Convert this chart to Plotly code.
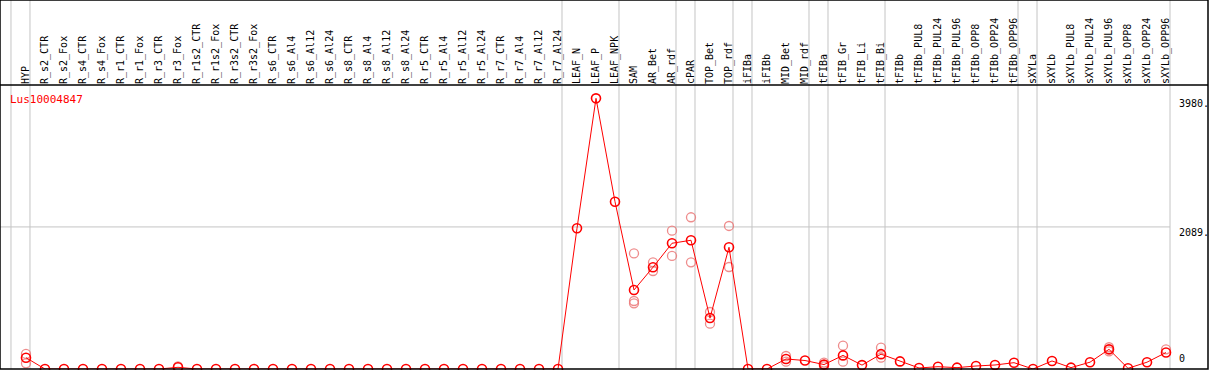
import plotly.graph_objects as go

categories = ["HYP", "R_s2_CTR", "R_s2_Fox", "R_s4_CTR", "R_s4_Fox", "R_r1_CTR", "R_r1_Fox",
              "R_r3_CTR", "R_r3_Fox", "R_r1s2_CTR", "R_r1s2_Fox", "R_r3s2_CTR", "R_r3s2_Fox",
              "R_s6_CTR", "R_s6_Al4", "R_s6_Al12", "R_s6_Al24", "R_s8_CTR", "R_s8_Al4",
              "R_s8_Al12", "R_s8_Al24", "R_r5_CTR", "R_r5_Al4", "R_r5_Al12", "R_r5_Al24",
              "R_r7_CTR", "R_r7_Al4", "R_r7_Al12", "R_r7_Al24", "LEAF_N", "LEAF_P", "LEAF_NPK",
              "SAM", "AR_Bet", "AR_rdf", "cPAR", "TOP_Bet", "TOP_rdf", "iFIBa", "iFIBb",
              "MID_Bet", "MID_rdf", "tFIBa", "tFIB_Gr", "tFIB_Li", "tFIB_Bi", "tFIBb",
              "tFIBb_PUL8", "tFIBb_PUL24", "tFIBb_PUL96", "tFIBb_OPP8", "tFIBb_OPP24",
              "tFIBb_OPP96", "sXYLa", "sXYLb", "sXYLb_PUL8", "sXYLb_PUL24", "sXYLb_PUL96",
              "sXYLb_OPP8", "sXYLb_OPP24", "sXYLb_OPP96"]

mean_values = [166, 0, 0, 0, 0, 0, 0, 0, 25, 0, 0, 0, 0,
               0, 0, 0, 0, 0, 0, 0, 0, 0, 0, 0, 0,
               0, 0, 0, 0, 2070, 3980, 2460,
               1162, 1496, 1849, 1893, 750, 1790, 0, 0,
               147, 125, 65, 200, 57, 218, 112,
               15, 34, 20, 44, 59,
               93, 0, 118, 20, 100, 289,
               10, 100, 242]

rep_categories = ["HYP", "HYP", "R_r3_Fox", "SAM", "SAM", "SAM", "AR_Bet", "AR_Bet",
                  "AR_rdf", "AR_rdf", "cPAR", "cPAR", "TOP_Bet", "TOP_Bet", "TOP_rdf", "TOP_rdf",
                  "MID_Bet", "MID_Bet", "tFIBa", "tFIBa", "tFIB_Gr", "tFIB_Gr", "tFIB_Bi", "tFIB_Bi",
                  "sXYLb_PUL96", "sXYLb_PUL96", "sXYLb_OPP96"]
rep_values = [221, 83, 40, 1701, 1000, 966, 1569, 1441,
              2034, 1662, 2231, 1569, 838, 666, 2103, 1500,
              191, 107, 95, 40, 343, 107, 313, 166,
              320, 260, 289]

group_ends = ["HYP", "R_r7_Al24", "LEAF_NPK", "AR_rdf", "cPAR", "TOP_rdf", "iFIBa",
              "MID_rdf", "tFIBa", "tFIB_Bi", "tFIBb_OPP96", "sXYLa", "sXYLb_OPP96"]

gene = "Lus10004847"
axis_labels = [3980, 2089, 0]

idx = {c: i for i, c in enumerate(categories)}
xs = list(range(len(categories)))

W, H = 1209, 370
T, B = 85, 1
plot_h = H - T - B
YMAX = 4176
XMIN, XMAX = -1.368, 62.21

fig = go.Figure()
fig.add_trace(go.Scatter(
    x=[idx[c] for c in rep_categories], y=rep_values, mode="markers",
    marker=dict(symbol="circle-open", size=9, color="rgba(235,120,120,0.85)",
                line=dict(width=1.3, color="rgba(235,120,120,0.85)")),
    hoverinfo="skip", cliponaxis=False, showlegend=False))
fig.add_trace(go.Scatter(
    x=xs, y=mean_values, mode="lines+markers",
    line=dict(color="#ff0000", width=1),
    marker=dict(symbol="circle-open", size=9, color="#ff0000",
                line=dict(width=1.6, color="#ff0000")),
    cliponaxis=False, showlegend=False))

shapes = []
top_paper = 1 + T / plot_h
sep_positions = [-1] + [idx[c] for c in group_ends]
for k in sep_positions:
    shapes.append(dict(type="line", xref="x", yref="paper", x0=k + 0.21, x1=k + 0.21,
                       y0=0, y1=top_paper, line=dict(color="#c4c4c4", width=1), layer="below"))
shapes.append(dict(type="line", xref="paper", yref="y", x0=0, x1=(idx["sXYLb_OPP96"] + 0.21 - XMIN) / (XMAX - XMIN),
                   y0=2089, y1=2089, line=dict(color="#c4c4c4", width=1), layer="below"))
# frame
shapes.append(dict(type="rect", xref="paper", yref="paper", x0=0, x1=1, y0=0, y1=top_paper,
                   line=dict(color="black", width=1.5)))
shapes.append(dict(type="line", xref="paper", yref="paper", x0=0, x1=1, y0=1, y1=1,
                   line=dict(color="black", width=1.5)))

annotations = [dict(text=gene, xref="paper", yref="paper", x=8 / (W - 1), y=1 - 6 / plot_h,
                    xanchor="left", yanchor="top", showarrow=False,
                    font=dict(family="DejaVu Sans Mono", size=11, color="#ff0000"))]
for v in axis_labels:
    annotations.append(dict(text=f"{v}." if v else "0", xref="x", yref="y", x=60.6, y=v,
                            xanchor="left", yanchor="top" if v else "bottom",
                            yshift=2 if v else 3, showarrow=False,
                            font=dict(family="DejaVu Sans Mono", size=10, color="black")))

fig.update_layout(
    width=W, height=H, margin=dict(l=0, r=1, t=T, b=B),
    plot_bgcolor="white", paper_bgcolor="white",
    xaxis=dict(range=[XMIN, XMAX], side="top", tickmode="array", tickvals=xs,
               ticktext=categories, tickangle=-90, ticks="", showgrid=False, zeroline=False,
               showline=False, tickfont=dict(family="DejaVu Sans Mono", size=10, color="black")),
    yaxis=dict(range=[0, YMAX], showgrid=False, zeroline=False, showticklabels=False,
               showline=False),
    shapes=shapes, annotations=annotations,
)
fig.write_html("out.html", config={"displayModeBar": False},
               post_script="document.body.style.margin='0px';document.body.style.overflow='hidden';")
